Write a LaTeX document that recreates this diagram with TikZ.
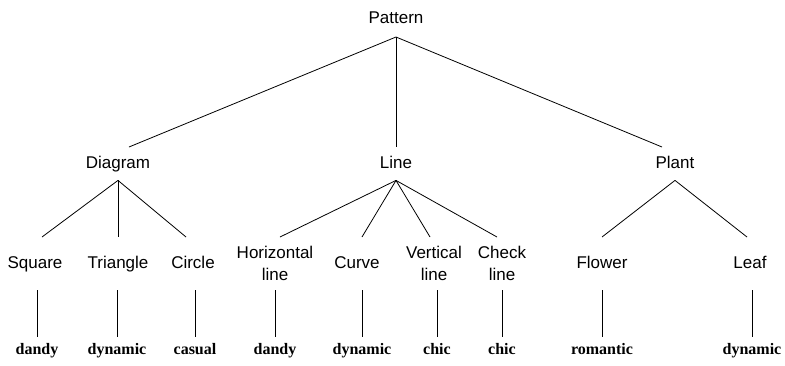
\documentclass[tikz,border=0pt]{standalone}
\usepackage{fontspec}
\setmainfont{Liberation Sans}
\newfontfamily\leaffont{Liberation Serif}
\begin{document}
\begin{tikzpicture}[x=1pt,y=-1pt,
  cat/.style={font=\fontsize{17}{22}\selectfont, align=center, inner sep=0pt},
  one/.style={text height=12.5pt, text depth=3.5pt},
  topnode/.style={cat, one, anchor=south, minimum height=36pt},
  midnode/.style={cat, one, anchor=north, minimum height=33pt},
  lownode/.style={cat, anchor=north, minimum height=53pt},
  leafnode/.style={font=\leaffont\bfseries\fontsize{16}{18}\selectfont, anchor=north,
    inner xsep=0pt, inner ysep=5.5pt, text height=11.5pt, text depth=3.5pt},
  edge/.style={line width=0.8pt}]
\useasboundingbox (0,0) rectangle (785,365);

\node[topnode] (pattern) at (396,37) {Pattern};

\node[midnode] (diagram) at (118,147) {Diagram};
\node[midnode] (line) at (396,147) {Line};
\node[midnode] (plant) at (675,147) {Plant};

\node[lownode, one] (square) at (35,237) {Square};
\node[lownode, one] (triangle) at (118,237) {Triangle};
\node[lownode, one] (circle) at (193,237) {Circle};
\node[lownode] (horiz) at (275,237) {Horizontal\\line};
\node[lownode, one] (curve) at (357,237) {Curve};
\node[lownode] (vert) at (434,237) {Vertical\\line};
\node[lownode] (check) at (502,237) {Check\\line};
\node[lownode, one] (flower) at (602,237) {Flower};
\node[lownode, one] (leaf) at (750,237) {Leaf};

\node[leafnode] (l1) at (37,337) {dandy};
\node[leafnode] (l2) at (117,337) {dynamic};
\node[leafnode] (l3) at (195,337) {casual};
\node[leafnode] (l4) at (275,337) {dandy};
\node[leafnode] (l5) at (362,337) {dynamic};
\node[leafnode] (l6) at (437,337) {chic};
\node[leafnode] (l7) at (502,337) {chic};
\node[leafnode] (l8) at (602,337) {romantic};
\node[leafnode] (l9) at (752,337) {dynamic};

\draw[edge] (pattern.south) -- ([xshift=11pt]diagram.north);
\draw[edge] (pattern.south) -- (line.north);
\draw[edge] (pattern.south) -- ([xshift=-13pt]plant.north);

\draw[edge] (diagram.south) -- ([xshift=7pt]square.north);
\draw[edge] (diagram.south) -- (triangle.north);
\draw[edge] (diagram.south) -- ([xshift=-7pt]circle.north);

\draw[edge] (line.south) -- ([xshift=5pt]horiz.north);
\draw[edge] (line.south) -- ([xshift=5pt]curve.north);
\draw[edge] (line.south) -- ([xshift=-4pt]vert.north);
\draw[edge] (line.south) -- ([xshift=-5pt]check.north);

\draw[edge] (plant.south) -- (flower.north);
\draw[edge] (plant.south) -- ([xshift=-3pt]leaf.north);

\draw[edge] (l1.north |- square.south) -- (l1.north);
\draw[edge] (l2.north |- triangle.south) -- (l2.north);
\draw[edge] (l3.north |- circle.south) -- (l3.north);
\draw[edge] (l4.north |- horiz.south) -- (l4.north);
\draw[edge] (l5.north |- curve.south) -- (l5.north);
\draw[edge] (l6.north |- vert.south) -- (l6.north);
\draw[edge] (l7.north |- check.south) -- (l7.north);
\draw[edge] (l8.north |- flower.south) -- (l8.north);
\draw[edge] (l9.north |- leaf.south) -- (l9.north);
\end{tikzpicture}
\end{document}
